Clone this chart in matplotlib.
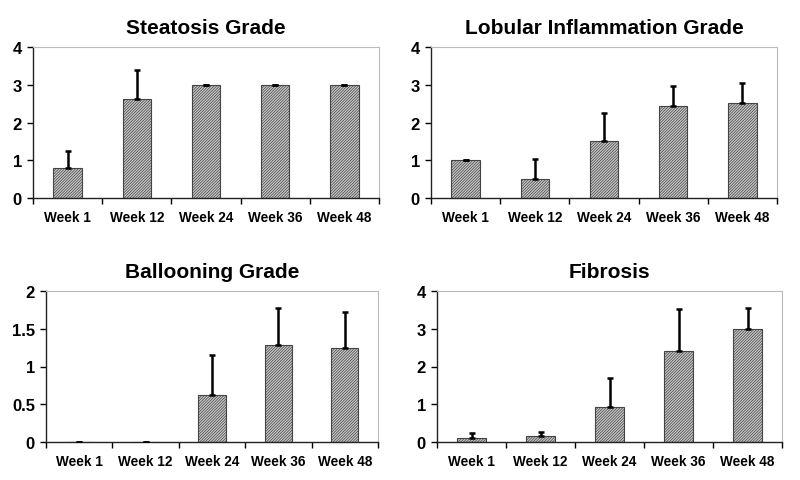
import matplotlib.pyplot as plt
import numpy as np

plt.rcParams['font.family'] = ['Liberation Sans', 'DejaVu Sans']
plt.rcParams['hatch.color'] = '#8c8c8c'
plt.rcParams['hatch.linewidth'] = 0.5

weeks = ['Week 1', 'Week 12', 'Week 24', 'Week 36', 'Week 48']

steatosis_mean = [0.79, 2.63, 3.0, 3.0, 3.0]
steatosis_sd = [0.46, 0.75, 0.0, 0.0, 0.0]

lobular_mean = [1.0, 0.5, 1.5, 2.43, 2.51]
lobular_sd = [0.0, 0.53, 0.76, 0.53, 0.53]

ballooning_mean = [0.0, 0.0, 0.62, 1.28, 1.25]
ballooning_sd = [0.0, 0.0, 0.53, 0.50, 0.47]

fibrosis_mean = [0.11, 0.15, 0.94, 2.42, 2.99]
fibrosis_sd = [0.13, 0.11, 0.76, 1.10, 0.55]

panels = [
    ('Steatosis Grade', steatosis_mean, steatosis_sd, 4, [0, 1, 2, 3, 4], ['0', '1', '2', '3', '4']),
    ('Lobular Inflammation Grade', lobular_mean, lobular_sd, 4, [0, 1, 2, 3, 4], ['0', '1', '2', '3', '4']),
    ('Ballooning Grade', ballooning_mean, ballooning_sd, 2, [0, 0.5, 1, 1.5, 2], ['0', '0.5', '1', '1.5', '2']),
    ('Fibrosis', fibrosis_mean, fibrosis_sd, 4, [0, 1, 2, 3, 4], ['0', '1', '2', '3', '4']),
]

# axes positions in pixels: left, top, right, bottom
boxes = [(33, 48, 379, 199), (431, 48, 777, 199), (46, 292, 378, 443), (437, 292, 782, 443)]

W, H = 800, 481
fig = plt.figure(figsize=(8, 4.81), dpi=100)

for (title, mean, sd, ymax, yt, ytl), (l, t, r, b) in zip(panels, boxes):
    ax = fig.add_axes([l / W, 1 - b / H, (r - l) / W, (b - t) / H])
    x = np.arange(len(weeks))
    ax.bar(x, mean, width=0.41, color='#c8c8c8', edgecolor='#444444', linewidth=0.8,
           hatch='////////////', zorder=2)
    ax.errorbar(x, mean, yerr=[np.zeros(len(mean)), sd], fmt='none', ecolor='black',
                elinewidth=1.8, capsize=2, capthick=1.8, zorder=3)
    ax.set_xlim(-0.5, len(weeks) - 0.5)
    ax.set_ylim(0, ymax)
    ax.set_yticks(yt)
    ax.set_yticklabels(ytl, fontsize=12, fontweight='bold')
    ax.set_xticks(np.arange(len(weeks) + 1) - 0.5)
    ax.set_xticklabels([])
    ax.set_xticks(x, minor=True)
    ax.set_xticklabels(weeks, minor=True, fontsize=9.8, fontweight='bold')
    ax.tick_params(axis='x', which='minor', length=0, pad=9)
    ax.tick_params(axis='x', which='major', length=4, width=1, direction='out')
    ax.tick_params(axis='y', length=4, width=1, direction='out', pad=4)
    for s in ['top', 'right']:
        ax.spines[s].set_color('#bbbbbb')
        ax.spines[s].set_linewidth(0.8)
    for s in ['left', 'bottom']:
        ax.spines[s].set_color('#222222')
        ax.spines[s].set_linewidth(1.0)
    ax.set_title(title, fontsize=15, fontweight='bold', pad=10)

fig.savefig('out.png', dpi=100)
